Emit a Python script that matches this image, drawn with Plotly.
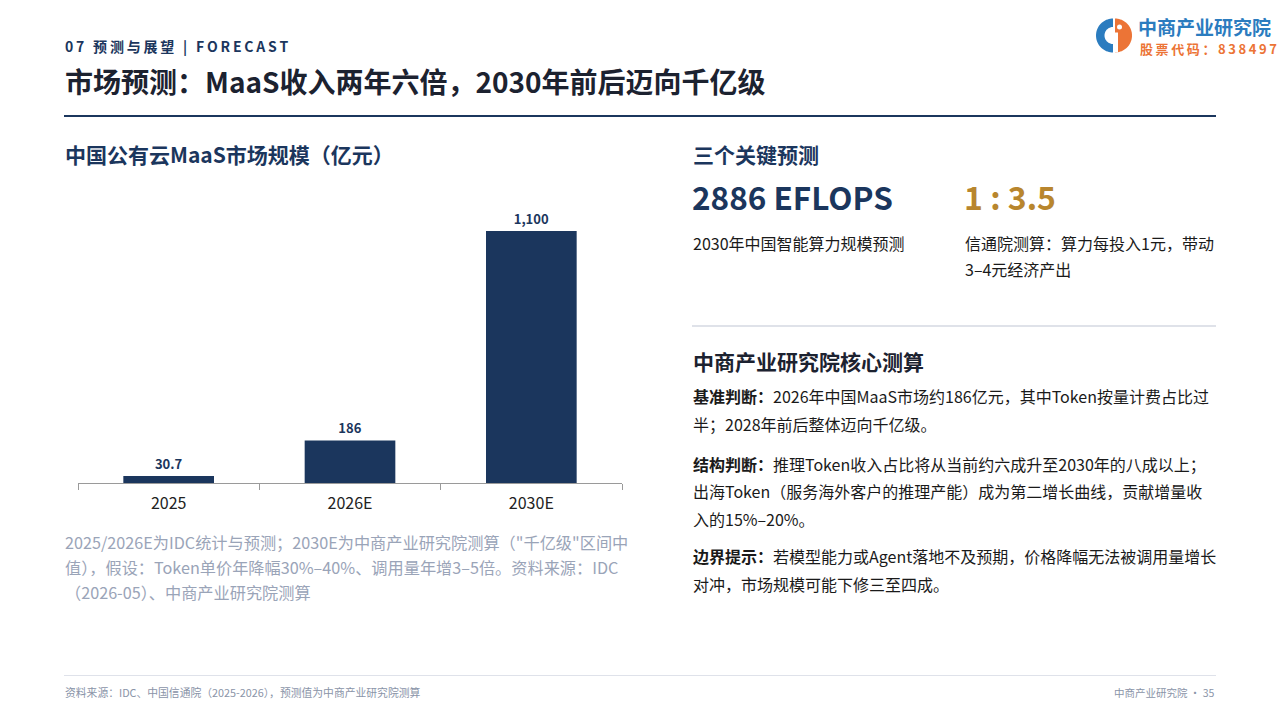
import numpy as np
import plotly.graph_objects as go

# ---- data ----
categories = ["2025", "2026E", "2030E"]
market_size = [30.7, 186, 1100]

W, H = 1280, 720
def X(px): return px / W
def Y(py): return 1 - py / H

NAVY = "#1b365d"
DARK = "#1c2230"
GOLD = "#b8862e"
GREY = "#9aa4b8"
BODY = "#1a1a1a"
FONT = "Noto Sans CJK SC"

fig = go.Figure()
fig.add_trace(go.Bar(
    x=categories, y=market_size,
    marker=dict(color=NAVY, line=dict(width=0)),
    texttemplate="%{y:,}", textposition="outside",
    textfont=dict(family=FONT, size=13, color=NAVY, weight=700),
    cliponaxis=False, hoverinfo="skip",
))

fig.update_layout(
    width=W, height=H, margin=dict(l=0, r=0, t=0, b=0),
    paper_bgcolor="white", plot_bgcolor="white",
    showlegend=False, bargap=0.5,
    font=dict(family=FONT, color=BODY),
    xaxis=dict(domain=[X(78), X(622)], type="category", range=[-0.5, 2.5],
               showline=True, linecolor="#9a9a9a", linewidth=1,
               ticks="outside", tickson="boundaries", ticklen=6, tickcolor="#9a9a9a",
               ticklabelstandoff=6,
               tickfont=dict(family=FONT, size=16, color="#222222"),
               showgrid=False, zeroline=False, fixedrange=True),
    yaxis=dict(domain=[Y(483), Y(180.6)], range=[0, 1320], visible=False,
               showgrid=False, zeroline=False, fixedrange=True),
)

ann = []
def text(px, py, s, size, color=BODY, bold=False, anchor="left"):
    ann.append(dict(x=X(px), y=Y(py), xref="paper", yref="paper", text=s,
                    showarrow=False, xanchor=anchor, yanchor="middle", borderpad=0,
                    font=dict(family=FONT, size=size, color=color,
                              weight=700 if bold else 400)))

def spaced(s, sep="\u2009"):
    return sep.join(list(s))

# header
text(64, 46, spaced("07 预测与展望 | FORECAST"), 14, NAVY, True)
text(64, 81, "市场预测：MaaS收入两年六倍，2030年前后迈向千亿级", 28, DARK, True)

# logo text
text(1137, 26.5, "中商产业研究院", 19, "#2b7cbf", True)
text(1139, 48.5, spaced("股票代码：838497", "\u2009"), 13, "#ec7436", True)

# left panel
text(64, 154, "中国公有云MaaS市场规模（亿元）", 21, NAVY, True)
note_lines = [
    "2025/2026E为IDC统计与预测；2030E为中商产业研究院测算（\"千亿级\"区间中",
    "值），假设：Token单价年降幅30%–40%、调用量年增3–5倍。资料来源：IDC",
    "（2026-05）、中商产业研究院测算",
]
for i, s in enumerate(note_lines):
    text(64, 542 + 25 * i, s, 16.2, GREY)

# right panel
text(692, 154, "三个关键预测", 21, NAVY, True)
text(691, 196, "2886 EFLOPS", 31.5, NAVY, True)
text(963, 196, "1 : 3.5", 32, GOLD, True)
text(692, 243, "2030年中国智能算力规模预测", 16, BODY)
text(964, 243, "信通院测算：算力每投入1元，带动", 16, BODY)
text(964, 269, "3–4元经济产出", 16, BODY)

text(692, 361, "中商产业研究院核心测算", 21, DARK, True)
para = [
    (396, "<b>基准判断：</b>2026年中国MaaS市场约186亿元，其中Token按量计费占比过"),
    (424, "半；2028年前后整体迈向千亿级。"),
    (464, "<b>结构判断：</b>推理Token收入占比将从当前约六成升至2030年的八成以上；"),
    (491, "出海Token（服务海外客户的推理产能）成为第二增长曲线，贡献增量收"),
    (519, "入的15%–20%。"),
    (556, "<b>边界提示：</b>若模型能力或Agent落地不及预期，价格降幅无法被调用量增长"),
    (584, "对冲，市场规模可能下修三至四成。"),
]
for py, s in para:
    text(692, py, s, 16, BODY)

# footer
text(64, 692, "资料来源：IDC、中国信通院（2025-2026），预测值为中商产业研究院测算", 10.8, "#8a94a8")
text(1216, 692, "中商产业研究院 · 35", 10.5, "#8a94a8", anchor="right")

fig.update_layout(annotations=ann)

# shapes
shapes = [
    dict(type="line", xref="paper", yref="paper", x0=X(64), x1=X(1216), y0=Y(116), y1=Y(116),
         line=dict(color=NAVY, width=2)),
    dict(type="line", xref="paper", yref="paper", x0=X(692), x1=X(1216), y0=Y(326), y1=Y(326),
         line=dict(color="#d5d8e2", width=1.5)),
    dict(type="line", xref="paper", yref="paper", x0=X(64), x1=X(1216), y0=Y(675.5), y1=Y(675.5),
         line=dict(color="#dfe2ea", width=1)),
]

# logo icon (polygon approximations)
cx, cy, R, r = 1114, 35.5, 17, 8.5
def poly(points, color):
    d = "M " + " L ".join(f"{X(px):.5f},{Y(py):.5f}" for px, py in points) + " Z"
    return dict(type="path", xref="paper", yref="paper", path=d,
                fillcolor=color, line=dict(width=0))

t = np.linspace(np.pi / 2, 3 * np.pi / 2, 40)
outer = [(cx - 1 + R * np.cos(a), cy - R * np.sin(a)) for a in t]
inner = [(cx - 1 + r * np.cos(a), cy - r * np.sin(a)) for a in t[::-1]]
shapes.append(poly(outer + inner, "#2b7cbf"))
t2 = np.linspace(-np.pi / 2, np.pi / 2, 40)
right = [(cx + 1 + R * np.cos(a), cy - R * np.sin(a)) for a in t2]
shapes.append(poly(right, "#ec7436"))
shapes.append(dict(type="circle", xref="paper", yref="paper",
                   x0=X(cx + 3), x1=X(cx + 8), y0=Y(cy - 6), y1=Y(cy - 11),
                   fillcolor="white", line=dict(width=0)))
shapes.append(dict(type="rect", xref="paper", yref="paper",
                   x0=X(cx + 1), x1=X(cx + 4), y0=Y(cy - 3), y1=Y(cy + 17),
                   fillcolor="white", line=dict(width=0)))
fig.update_layout(shapes=shapes)

fig.write_html("out.html", config={"displayModeBar": False},
               post_script="document.body.style.margin='0';document.body.style.overflow='hidden';")
